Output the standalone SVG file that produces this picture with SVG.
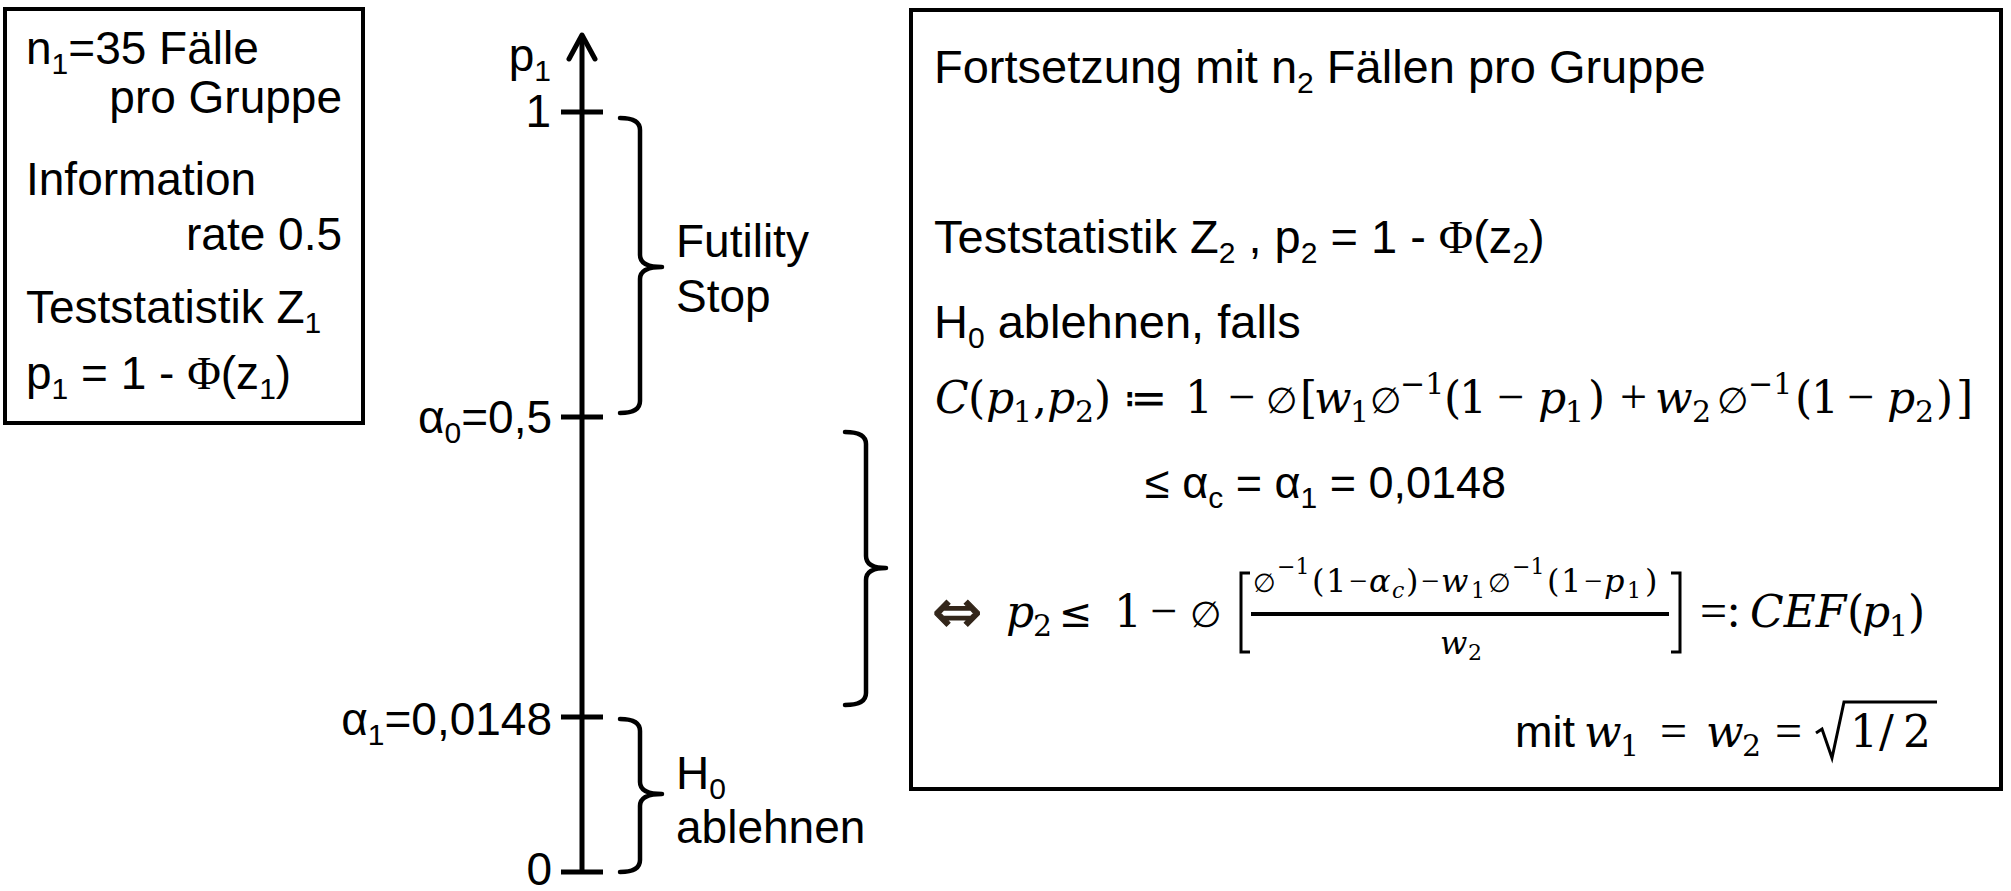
<svg xmlns="http://www.w3.org/2000/svg" width="2011" height="891" viewBox="0 0 2011 891">
  <style>
    .sans { font-family: "Liberation Sans", Arial, sans-serif; fill: #000; }
    .lt { font-size: 46px; }
    .rt { font-size: 47px; }
    .sb { font-size: 30px; }
    .serif { font-family: "Liberation Serif", "DejaVu Serif", serif; }
    .it { font-style: italic; }
    .sym { font-family: "DejaVu Sans", sans-serif; }
    .m { font-family: "DejaVu Serif", "Liberation Serif", serif; font-size: 44px; fill: #000; }
    .op { font-family: "Liberation Serif", "DejaVu Serif", serif; font-size: 48px; }
    .le { font-family: "DejaVu Sans", sans-serif; font-size: 40px; }
    .ms { font-size: 30px; }
    .es { font-family: "DejaVu Sans", sans-serif; font-size: 36px; }
    .fr { font-family: "DejaVu Serif", "Liberation Serif", serif; font-size: 32px; fill: #000; }
    .fs { font-size: 22px; }
    .fop { font-family: "Liberation Serif", "DejaVu Serif", serif; font-size: 32px; }
    .fes { font-family: "DejaVu Sans", sans-serif; font-size: 26px; }
    .box { fill: #fff; stroke: #000; stroke-width: 4; }
    .ln { stroke: #000; stroke-width: 5; fill: none; }
    .br { stroke: #000; stroke-width: 4.5; fill: none; stroke-linecap: round; stroke-linejoin: round; }
    .thin { stroke: #000; stroke-width: 3; fill: none; }
  </style>
  <rect width="2011" height="891" fill="#fff"/>

  <!-- stage 1 information -->
  <g id="stage1-box">
    <rect class="box" x="5" y="9" width="358" height="414"/>
    <text class="sans lt" x="26" y="64">n<tspan class="sb" dy="10">1</tspan><tspan dy="-10">=35 Fälle</tspan></text>
    <text class="sans lt" x="342" y="113" text-anchor="end">pro Gruppe</text>
    <text class="sans lt" x="26" y="195">Information</text>
    <text class="sans lt" x="342" y="250" text-anchor="end">rate 0.5</text>
    <text class="sans lt" x="26" y="323">Teststatistik Z<tspan class="sb" dy="10">1</tspan></text>
    <text class="sans lt" x="26" y="389">p<tspan class="sb" dy="10">1</tspan><tspan dy="-10"> = 1 - </tspan><tspan class="serif">Φ</tspan>(z<tspan class="sb" dy="10">1</tspan><tspan dy="-10">)</tspan></text>
  </g>

  <!-- p-value axis with ticks -->
  <g id="axis">
    <path class="ln" d="M582,872 V37"/>
    <polyline class="ln" points="569,59 582,35 595,59" stroke-linecap="round" stroke-linejoin="round"/>
    <path class="ln" d="M561,112 H603 M561,417 H603 M561,717 H603 M561,872 H603"/>
    <text class="sans lt" x="551" y="71" text-anchor="end">p<tspan class="sb" dy="10">1</tspan></text>
    <text class="sans lt" x="551" y="127" text-anchor="end">1</text>
    <text class="sans lt" x="552" y="433" text-anchor="end">α<tspan class="sb" dy="10">0</tspan><tspan dy="-10">=0,5</tspan></text>
    <text class="sans lt" x="552" y="735" text-anchor="end">α<tspan class="sb" dy="10">1</tspan><tspan dy="-10">=0,0148</tspan></text>
    <text class="sans lt" x="552" y="885" text-anchor="end">0</text>
  </g>

  <!-- region labels -->
  <g id="futility">
    <text class="sans lt" x="676" y="257">Futility</text>
    <text class="sans lt" x="676" y="312">Stop</text>
  </g>
  <g id="reject">
    <text class="sans lt" x="676" y="789">H<tspan class="sb" dy="10">0</tspan></text>
    <text class="sans lt" x="676" y="843">ablehnen</text>
  </g>

  <!-- range braces -->
  <g id="connectors">
    <path class="br" d="M620,118 Q640,118 640,130 V255 Q640,267 662,267 M662,267 Q640,267 640,279 V401 Q640,413 620,413"/>
    <path class="br" d="M620,719 Q640,719 640,731 V782 Q640,794 662,794 M662,794 Q640,794 640,806 V860 Q640,872 620,872"/>
    <path class="br" d="M845,432 Q866,432 866,444 V556 Q866,568 886,568 M886,568 Q866,568 866,580 V693 Q866,705 845,705"/>
  </g>

  <!-- stage 2 decision rule -->
  <g id="stage2-box">
    <rect class="box" x="911" y="10" width="1090" height="779" stroke-width="4.5"/>
    <text class="sans rt" x="934" y="83">Fortsetzung mit n<tspan class="sb" dy="10">2</tspan><tspan dy="-10"> Fällen pro Gruppe</tspan></text>
    <text class="sans rt" x="934" y="253">Teststatistik Z<tspan class="sb" dy="10">2</tspan><tspan dy="-10"> , p</tspan><tspan class="sb" dy="10">2</tspan><tspan dy="-10"> = 1 - </tspan><tspan class="serif">Φ</tspan>(z<tspan class="sb" dy="10">2</tspan><tspan dy="-10">)</tspan></text>
    <text class="sans rt" x="934" y="338">H<tspan class="sb" dy="10">0</tspan><tspan dy="-10"> ablehnen, falls</tspan></text>

    <!-- combination function -->
    <text class="m">
      <tspan class="it" x="935" y="413">C</tspan>
      <tspan x="968" y="413">(</tspan>
      <tspan class="it" x="986" y="413">p</tspan><tspan class="ms" x="1013" y="422">1</tspan>
      <tspan x="1033" y="413">,</tspan>
      <tspan class="it" x="1047" y="413">p</tspan><tspan class="ms" x="1075" y="422">2</tspan>
      <tspan x="1094" y="413">)</tspan>
      <tspan class="sym" x="1123" y="413">≔</tspan>
      <tspan x="1185" y="413">1</tspan>
      <tspan class="op" x="1228" y="413">−</tspan>
      <tspan class="es" x="1266" y="413">∅</tspan>
      <tspan x="1300" y="413">[</tspan>
      <tspan class="it" x="1314" y="413">w</tspan><tspan class="ms" x="1350" y="422">1</tspan>
      <tspan class="es" x="1370" y="413">∅</tspan>
      <tspan class="ms" x="1400" y="394">−1</tspan>
      <tspan x="1444" y="413">(</tspan>
      <tspan x="1459" y="413">1</tspan>
      <tspan class="op" x="1497" y="413">−</tspan>
      <tspan class="it" x="1538" y="413">p</tspan><tspan class="ms" x="1565" y="422">1</tspan>
      <tspan x="1588" y="413">)</tspan>
      <tspan class="op" x="1620" y="413">+</tspan>
      <tspan class="it" x="1655" y="413">w</tspan><tspan class="ms" x="1692" y="422">2</tspan>
      <tspan class="es" x="1717" y="413">∅</tspan>
      <tspan class="ms" x="1748" y="394">−1</tspan>
      <tspan x="1795" y="413">(</tspan>
      <tspan x="1811" y="413">1</tspan>
      <tspan class="op" x="1847" y="413">−</tspan>
      <tspan class="it" x="1887" y="413">p</tspan><tspan class="ms" x="1915" y="422">2</tspan>
      <tspan x="1936" y="413">)</tspan>
      <tspan x="1956" y="413">]</tspan>
    </text>

    <text class="sans" font-size="45" x="1145" y="498">≤ α<tspan class="sb" dy="10">c</tspan><tspan dy="-10"> = α</tspan><tspan class="sb" dy="10">1</tspan><tspan dy="-10"> = 0,0148</tspan></text>

    <!-- conditional error function -->
    <text class="sym" x="932" y="632" font-size="60" fill="#33261a" stroke="#33261a" stroke-width="1.2">⇔</text>
    <text class="m">
      <tspan class="it" x="1006" y="627">p</tspan><tspan class="ms" x="1033" y="636">2</tspan>
      <tspan class="le" x="1059" y="627">≤</tspan>
      <tspan x="1114" y="627">1</tspan>
      <tspan class="op" x="1150" y="627">−</tspan>
      <tspan class="es" x="1190" y="627">∅</tspan>
    </text>
    <path class="thin" d="M1250,573 H1241 V652 H1250"/>
    <text class="fr">
      <tspan class="fes" x="1253" y="592">∅</tspan>
      <tspan class="fs" x="1277" y="574">−1</tspan>
      <tspan x="1312" y="592">(</tspan>
      <tspan x="1326" y="592">1</tspan>
      <tspan class="fop" x="1349" y="592">−</tspan>
      <tspan class="it" x="1369" y="592">α</tspan><tspan class="it fs" x="1392" y="598">c</tspan>
      <tspan x="1406" y="592">)</tspan>
      <tspan class="fop" x="1421" y="592">−</tspan>
      <tspan class="it" x="1441" y="592">w</tspan><tspan class="fs" x="1471" y="598">1</tspan>
      <tspan class="fes" x="1488" y="592">∅</tspan>
      <tspan class="fs" x="1512" y="574">−1</tspan>
      <tspan x="1547" y="592">(</tspan>
      <tspan x="1561" y="592">1</tspan>
      <tspan class="fop" x="1584" y="592">−</tspan>
      <tspan class="it" x="1604" y="592">p</tspan><tspan class="fs" x="1627" y="598">1</tspan>
      <tspan x="1645" y="592">)</tspan>
    </text>
    <path d="M1251,614 H1669" stroke="#000" stroke-width="4"/>
    <text class="fr"><tspan class="it" x="1440" y="654">w</tspan><tspan class="fs" x="1468" y="660">2</tspan></text>
    <path class="thin" d="M1671,573 H1680 V652 H1671"/>
    <text class="m">
      <tspan class="op" x="1700" y="627">=:</tspan>
      <tspan class="it" x="1750" y="627">CEF</tspan>
      <tspan x="1847" y="627">(</tspan>
      <tspan class="it" x="1862" y="627">p</tspan><tspan class="ms" x="1889" y="636">1</tspan>
      <tspan x="1908" y="627">)</tspan>
    </text>

    <!-- weights -->
    <text class="sans" font-size="45" x="1515" y="747">mit</text>
    <text class="m">
      <tspan class="it" x="1584" y="747">w</tspan><tspan class="ms" x="1620" y="756">1</tspan>
      <tspan class="op" x="1660" y="747">=</tspan>
      <tspan class="it" x="1706" y="747">w</tspan><tspan class="ms" x="1742" y="756">2</tspan>
      <tspan class="op" x="1775" y="747">=</tspan>
      <tspan x="1850" y="747">1</tspan>
      <tspan x="1879" y="747">/</tspan>
      <tspan x="1903" y="747">2</tspan>
    </text>
    <path class="thin" d="M1816,733 L1822,729 L1832,758 L1844,702 H1937" stroke-width="2.5"/>
  </g>
</svg>
